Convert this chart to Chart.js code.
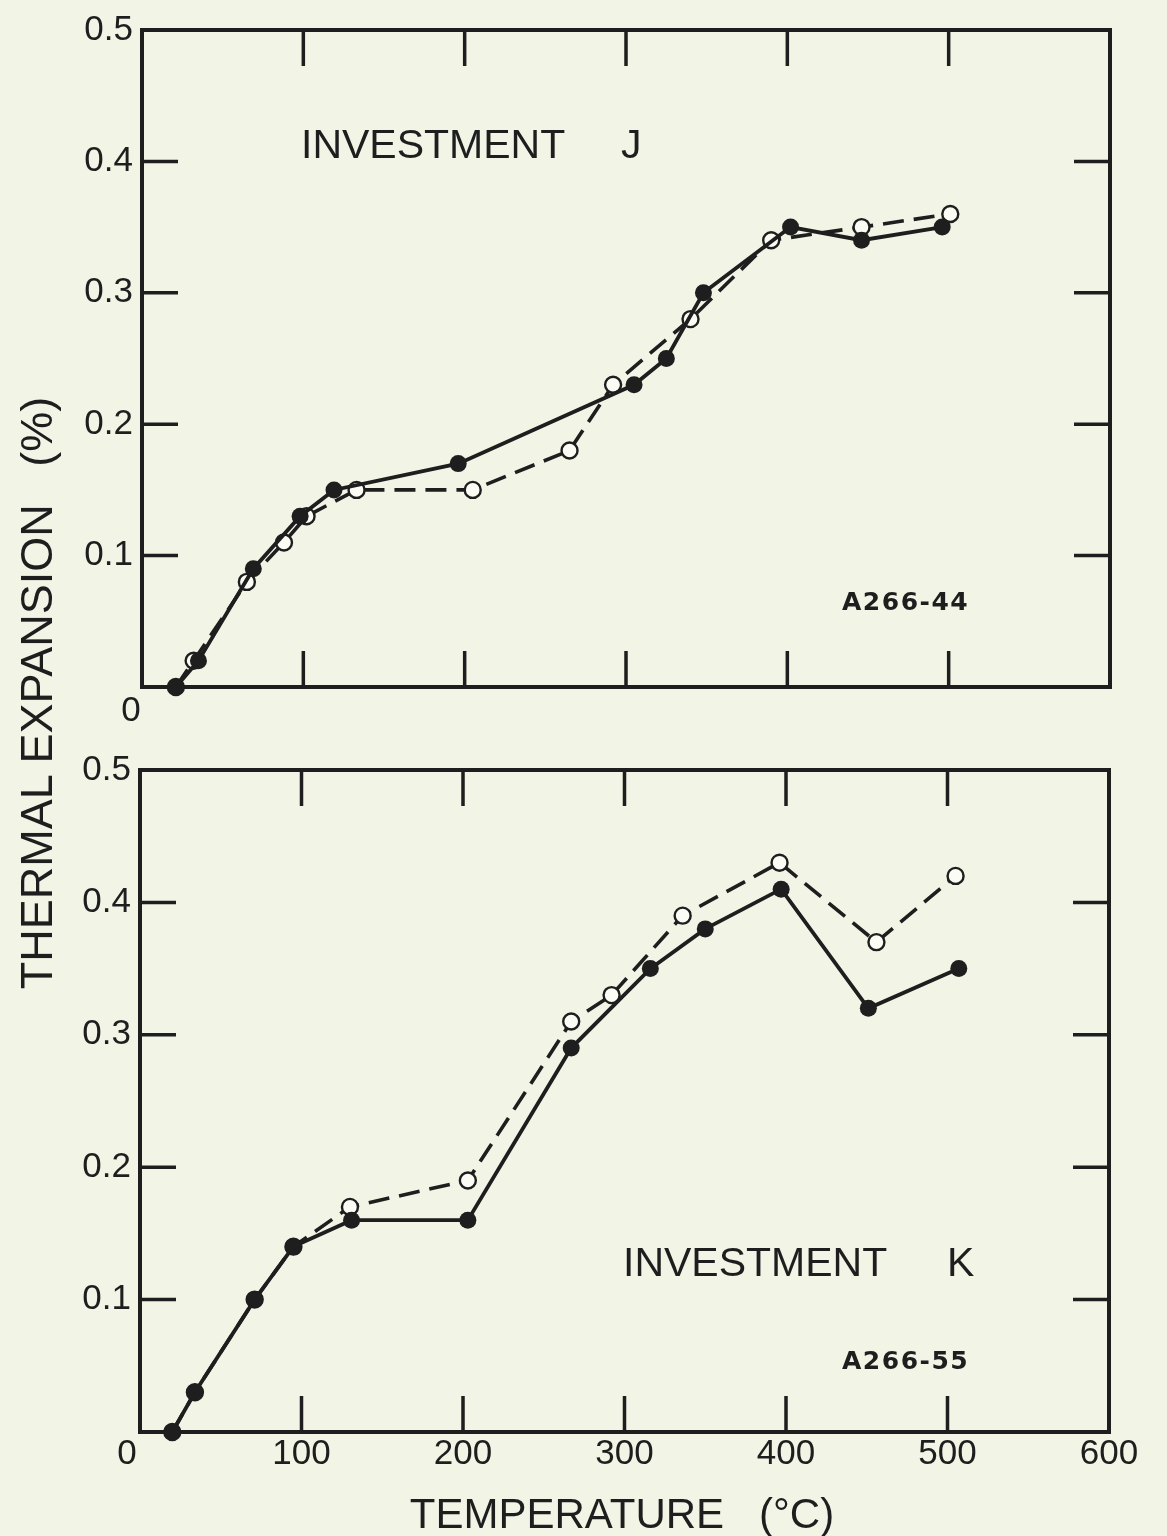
<!DOCTYPE html>
<html><head><meta charset="utf-8">
<script src="https://cdn.jsdelivr.net/npm/chart.js@4"></script>
<style>
html,body{margin:0;padding:0;background:#f2f4e6;}
#wrap{position:relative;width:1167px;height:1536px;overflow:hidden;background:#f2f4e6;}
#c1{position:absolute;left:0;top:0;width:1167px;height:740px;}
#c2{position:absolute;left:0;top:740px;width:1167px;height:796px;}
#ytitle{position:absolute;left:-313px;top:668px;width:700px;height:50px;line-height:50px;text-align:center;font-family:'Liberation Sans';font-size:45px;color:#1e1e1e;transform:rotate(-90deg);white-space:pre;}
</style></head>
<body>
<div id="wrap">
<canvas id="c1" width="1167" height="740"></canvas>
<canvas id="c2" width="1167" height="796"></canvas>
<div id="ytitle">THERMAL EXPANSION   (%)</div>
</div>
<script>
// ---- data ----
const xTickValues = [0, 100, 200, 300, 400, 500, 600];
const yTickValues = [0, 0.1, 0.2, 0.3, 0.4, 0.5];

// Investment J (top panel)
const jSolidT = [21, 35, 69, 98, 119, 196, 305, 325, 348, 402, 446, 496];
const jSolidV = [0, 0.02, 0.09, 0.13, 0.15, 0.17, 0.23, 0.25, 0.30, 0.35, 0.34, 0.35];
const jOpenT  = [21, 32, 65, 88, 102, 133, 205, 265, 292, 340, 390, 446, 501];
const jOpenV  = [0, 0.02, 0.08, 0.11, 0.13, 0.15, 0.15, 0.18, 0.23, 0.28, 0.34, 0.35, 0.36];

// Investment K (bottom panel)
const kSolidT = [20, 34, 71, 95, 131, 203, 267, 316, 350, 397, 451, 507];
const kSolidV = [0, 0.03, 0.10, 0.14, 0.16, 0.16, 0.29, 0.35, 0.38, 0.41, 0.32, 0.35];
const kOpenT  = [20, 34, 71, 95, 130, 203, 267, 292, 336, 396, 456, 505];
const kOpenV  = [0, 0.03, 0.10, 0.14, 0.17, 0.19, 0.31, 0.33, 0.39, 0.43, 0.37, 0.42];

const INK = '#1e1e1e';
const PAPER = '#fbfcf4';
const FONT = 'Liberation Sans';

function pts(t, v){ return t.map((x,i)=>({x:x, y:v[i]})); }

function makeDatasets(sT, sV, oT, oV){
  return [
    {label:'solid', data:pts(sT,sV), showLine:true, borderColor:INK, borderWidth:3.8,
     pointRadius:8.5, pointBackgroundColor:INK, pointBorderColor:INK, pointBorderWidth:0,
     tension:0, clip:false, order:0},
    {label:'open', data:pts(oT,oV), showLine:true, borderColor:INK, borderWidth:3.6,
     borderDash:[21,10], pointRadius:8, pointBackgroundColor:PAPER, pointBorderColor:INK,
     pointBorderWidth:2.4, tension:0, clip:false, order:1}
  ];
}

function framePlugin(id, texts){
  return {
    id: id,
    beforeDatasetsDraw(chart){
      const {ctx, chartArea:a, scales} = chart;
      ctx.save();
      ctx.strokeStyle = INK;
      ctx.lineWidth = 4;
      ctx.strokeRect(a.left, a.top, a.right-a.left, a.bottom-a.top);
      ctx.lineWidth = 3.5;
      const L = 36;
      ctx.beginPath();
      xTickValues.forEach(v=>{
        if (v<=0 || v>=600) return;
        const px = scales.x.getPixelForValue(v);
        ctx.moveTo(px, a.top); ctx.lineTo(px, a.top+L);
        ctx.moveTo(px, a.bottom); ctx.lineTo(px, a.bottom-L);
      });
      yTickValues.forEach(v=>{
        if (v<=0 || v>=0.5) return;
        const py = scales.y.getPixelForValue(v);
        ctx.moveTo(a.left, py); ctx.lineTo(a.left+L, py);
        ctx.moveTo(a.right, py); ctx.lineTo(a.right-L, py);
      });
      ctx.stroke();
      ctx.restore();
    },
    afterDraw(chart){
      const ctx = chart.ctx;
      ctx.save();
      ctx.fillStyle = INK;
      ctx.textBaseline = 'alphabetic';
      texts.forEach(t=>{
        ctx.font = t.font;
        ctx.textAlign = t.align || 'left';
        ctx.letterSpacing = t.ls || '0px';
        ctx.fillText(t.text, t.x, t.y);
      });
      ctx.restore();
    }
  };
}

function makeChart(canvasId, datasets, opts){
  return new Chart(document.getElementById(canvasId), {
    type:'scatter',
    data:{datasets:datasets},
    options:{
      responsive:false, animation:false,
      layout:{padding:{left:0, right:opts.padRight, top:opts.padTop, bottom:0}},
      plugins:{legend:{display:false}, tooltip:{enabled:false}},
      scales:{
        x:{type:'linear', min:0, max:600,
           afterFit(s){ s.height = opts.xHeight; },
           grid:{display:false, drawTicks:false}, border:{display:false},
           ticks:{display:opts.showX, stepSize:100, padding:1, color:INK,
                  font:{family:FONT, size:35},
                  callback:(v)=> v===0 ? '' : String(v)}},
        y:{type:'linear', min:0, max:0.5,
           afterFit(s){ s.width = opts.yWidth; },
           grid:{display:false, drawTicks:false}, border:{display:false},
           ticks:{stepSize:0.1, padding:9, color:INK, font:{family:FONT, size:35},
                  callback:(v)=> v===0 ? '' : Number(v).toFixed(1)}}
      }
    },
    plugins:[opts.plugin]
  });
}

makeChart('c1', makeDatasets(jSolidT, jSolidV, jOpenT, jOpenV), {
  padRight:57, padTop:23, xHeight:53, yWidth:142, showX:false,
  plugin: framePlugin('frameJ', [
    {text:'INVESTMENT', x:301, y:158, font:"41px 'Liberation Sans'"},
    {text:'J', x:621, y:158, font:"41px 'Liberation Sans'"},
    {text:'A266-44', x:842, y:610, font:"bold 25px 'DejaVu Sans'", ls:'1.5px'},
    {text:'0', x:131, y:721, font:"35px 'Liberation Sans'", align:'center'}
  ])
});

makeChart('c2', makeDatasets(kSolidT, kSolidV, kOpenT, kOpenV), {
  padRight:58, padTop:28, xHeight:104, yWidth:140, showX:true,
  plugin: framePlugin('frameK', [
    {text:'INVESTMENT', x:623, y:536, font:"41px 'Liberation Sans'"},
    {text:'K', x:947, y:536, font:"41px 'Liberation Sans'"},
    {text:'A266-55', x:842, y:629, font:"bold 25px 'DejaVu Sans'", ls:'1.5px'},
    {text:'0', x:127, y:724, font:"35px 'Liberation Sans'", align:'center'},
    {text:'TEMPERATURE   (°C)', x:622, y:788, font:"42px 'Liberation Sans'", align:'center'}
  ])
});
</script>
</body></html>
